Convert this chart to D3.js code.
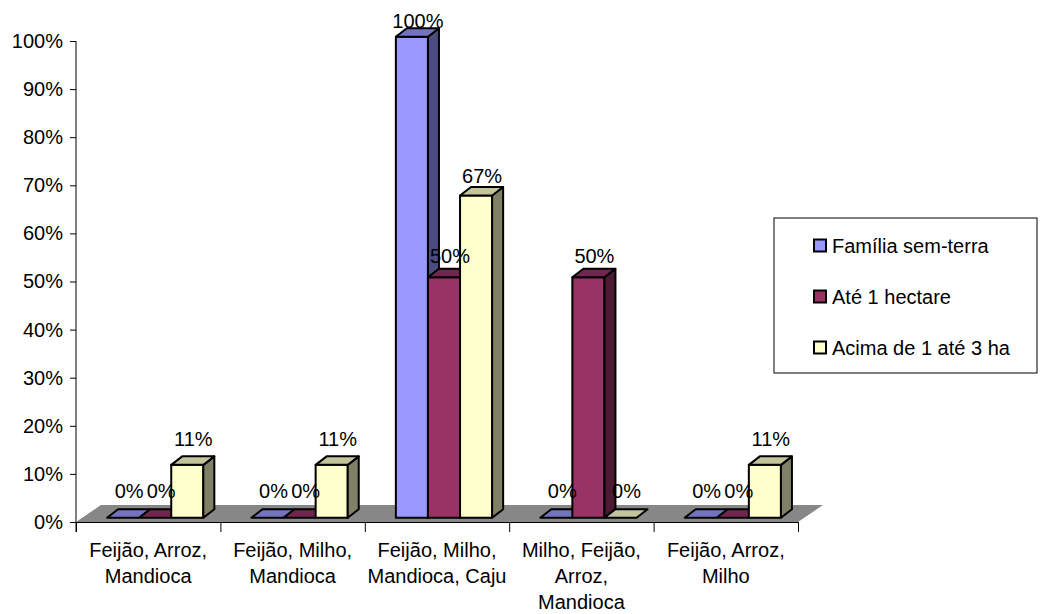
<!DOCTYPE html>
<html>
<head>
<meta charset="utf-8">
<script src="https://cdnjs.cloudflare.com/ajax/libs/d3/7.8.5/d3.min.js"></script>
<style>
body { margin: 0; background: #fff; }
text { font-family: Arial, "Liberation Sans", sans-serif; font-size: 20px; fill: #000; }
</style>
</head>
<body>
<script>
var categories = ["Feijão, Arroz, Mandioca", "Feijão, Milho, Mandioca", "Feijão, Milho, Mandioca, Caju", "Milho, Feijão, Arroz, Mandioca", "Feijão, Arroz, Milho"];
var categoryLines = [["Feijão, Arroz,", "Mandioca"], ["Feijão, Milho,", "Mandioca"], ["Feijão, Milho,", "Mandioca, Caju"], ["Milho, Feijão,", "Arroz,", "Mandioca"], ["Feijão, Arroz,", "Milho"]];
var seriesNames = ["Família sem-terra", "Até 1 hectare", "Acima de 1 até 3 ha"];
var familiaSemTerra = [0, 0, 1.00, 0, 0];
var ate1Hectare = [0, 0, 0.50, 0.50, 0];
var acima1ate3 = [0.11, 0.11, 0.67, 0, 0.11];
var tickValues = [0, 0.1, 0.2, 0.3, 0.4, 0.5, 0.6, 0.7, 0.8, 0.9, 1.0];

var seriesValues = [familiaSemTerra, ate1Hectare, acima1ate3];
var frontCol = ["#9999FF", "#993366", "#FFFFCC"];
var topCol = ["#7373C0", "#73264D", "#C4C49C"];
var sideCol = ["#4C4C80", "#4D1A33", "#808066"];

var width = 1048, height = 614;
var left = 76, right = 798, base = 522, top100 = 41;
var floorD = {dx: 25, dy: -17};   // depth of the floor
var barD = {dx: 11, dy: -8.5};    // depth of a bar
var fo = {dx: (floorD.dx - barD.dx) / 2, dy: (floorD.dy - barD.dy) / 2}; // bar sits mid-floor

var svg = d3.select("body").append("svg")
	.attr("width", width)
	.attr("height", height);

var y = d3.scaleLinear().domain([0, 1]).range([base, top100]);
var x = d3.scaleBand().domain(categories).range([left, right]);
var catW = x.bandwidth();
var xs = d3.scaleBand().domain(seriesNames).range([catW / 6, catW * 5 / 6]);
var bw = xs.bandwidth();

// floor
svg.append("polygon")
	.attr("points", [[left, base], [right, base], [right + floorD.dx, base + floorD.dy], [left + floorD.dx, base + floorD.dy]].join(" "))
	.style("fill", "#878787");

// bars, painted left to right
var bars = [];
categories.forEach(function (c, ci) {
	seriesNames.forEach(function (s, si) {
		bars.push({cat: c, ci: ci, s: s, si: si, v: seriesValues[si][ci]});
	});
});

var g = svg.append("g");
bars.forEach(function (d) {
	var x0 = x(d.cat) + xs(d.s) + fo.dx;
	var yb = y(0) + fo.dy;
	var yt = y(d.v) + fo.dy;
	var bar = g.append("g")
		.style("stroke", "#000")
		.style("stroke-width", 2)
		.style("stroke-linejoin", "round");
	if (d.v > 0) {
		bar.append("rect")
			.attr("x", x0).attr("y", yt)
			.attr("width", bw).attr("height", yb - yt)
			.style("fill", frontCol[d.si]);
		bar.append("polygon")
			.attr("points", [[x0 + bw, yt], [x0 + bw + barD.dx, yt + barD.dy], [x0 + bw + barD.dx, yb + barD.dy], [x0 + bw, yb]].join(" "))
			.style("fill", sideCol[d.si]);
	}
	bar.append("polygon")
		.attr("points", [[x0, yt], [x0 + bw, yt], [x0 + bw + barD.dx, yt + barD.dy], [x0 + barD.dx, yt + barD.dy]].join(" "))
		.style("fill", topCol[d.si]);
});

// value axis
var yAxis = svg.append("g")
	.attr("transform", "translate(" + left + ",0)")
	.call(d3.axisLeft(y).tickValues(tickValues).tickFormat(d3.format(".0%")).tickSize(6).tickSizeOuter(0).tickPadding(7));
yAxis.select(".domain").remove();
yAxis.selectAll("line").style("stroke", "#000");
yAxis.selectAll("text").style("font-size", "20px").style("font-family", "Arial, 'Liberation Sans', sans-serif");
svg.append("line")
	.attr("x1", left).attr("x2", left).attr("y1", top100).attr("y2", base + 10)
	.style("stroke", "#000");

// category axis
var xb = d3.scaleLinear().domain([0, categories.length]).range([left, right]);
var xAxis = svg.append("g")
	.attr("transform", "translate(0," + base + ")")
	.call(d3.axisBottom(xb).ticks(categories.length).tickFormat("").tickSize(10).tickSizeOuter(0));
xAxis.select(".domain").style("stroke", "#000");
xAxis.selectAll("line").style("stroke", "#000");

categoryLines.forEach(function (lines, i) {
	var t = svg.append("text")
		.attr("text-anchor", "middle")
		.attr("x", x(categories[i]) + catW / 2)
		.attr("y", 557);
	lines.forEach(function (l, li) {
		t.append("tspan")
			.attr("x", x(categories[i]) + catW / 2)
			.attr("dy", li == 0 ? 0 : 26)
			.text(l);
	});
});

// data labels on top
bars.forEach(function (d) {
	var x0 = x(d.cat) + xs(d.s) + fo.dx;
	svg.append("text")
		.attr("text-anchor", "middle")
		.attr("x", x0 + bw / 2 + 6)
		.attr("y", y(d.v) + fo.dy - 9 - 11 * (1 - d.v))
		.text(d3.format(".0%")(d.v));
});

// legend
var lg = svg.append("g").attr("transform", "translate(774,218)");
lg.append("rect")
	.attr("width", 263).attr("height", 155)
	.style("fill", "#fff").style("stroke", "#000");
seriesNames.forEach(function (s, i) {
	var cy = 27.5 + i * 51;
	lg.append("rect")
		.attr("x", 40).attr("y", cy - 6)
		.attr("width", 12).attr("height", 12)
		.style("fill", frontCol[i]).style("stroke", "#000").style("stroke-width", 2);
	lg.append("text")
		.attr("x", 58).attr("y", cy).attr("dy", "0.35em")
		.text(s);
});
</script>
</body>
</html>
